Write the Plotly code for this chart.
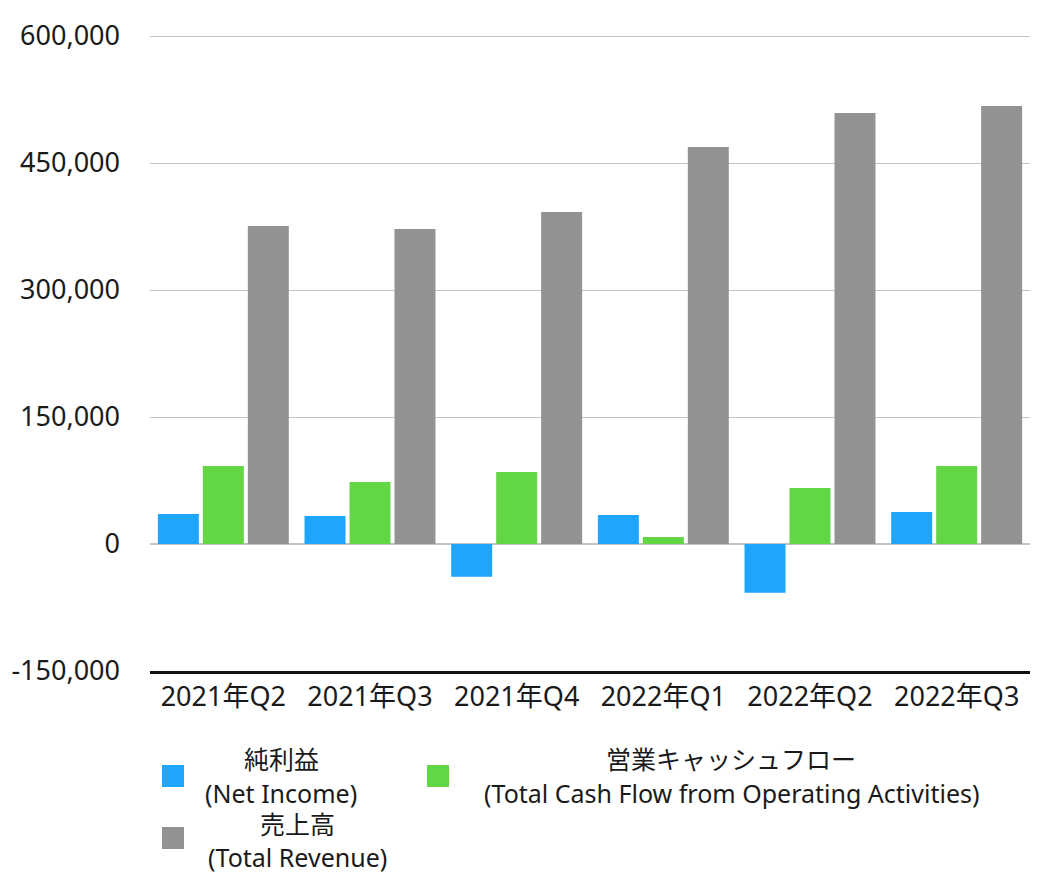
import plotly.graph_objects as go

categories = ["2021年Q2", "2021年Q3", "2021年Q4", "2022年Q1", "2022年Q2", "2022年Q3"]
net_income = [35400, 33000, -38600, 34300, -57500, 37800]
operating_cf = [92100, 73200, 85000, 8300, 66100, 92100]
total_revenue = [375600, 372000, 392100, 468900, 509000, 517300]

series_names = [
    ["純利益", "(Net Income)"],
    ["営業キャッシュフロー", "(Total Cash Flow from Operating Activities)"],
    ["売上高", "(Total Revenue)"],
]
tick_values = [-150000, 0, 150000, 300000, 450000, 600000]
tick_labels = ["-150,000", "0", "150,000", "300,000", "450,000", "600,000"]

colors = ["#1ea5fc", "#63d645", "#929292"]
FONT = "Noto Sans, Noto Sans CJK JP, sans-serif"
TXT = "#1a1a1a"

# the page body has an 8px margin
OFF = 8
HEAD = 3  # px of headroom above 600,000 so its gridline is drawn
W, H = 1058 - OFF, 886 - OFF
L, R, T, B = 150 - OFF, 28, 36 - HEAD - OFF, 215

fig = go.Figure()
for vals, names, col in zip([net_income, operating_cf, total_revenue], series_names, colors):
    fig.add_trace(go.Bar(x=categories, y=vals, name=" ".join(names),
                         marker=dict(color=col, line=dict(width=0)),
                         showlegend=False))

# custom legend (positions in page pixels, converted to paper coords)
def px(xp):
    return (xp - OFF - L) / (W - L - R)

def py(yp):
    return (H - B - (yp - OFF)) / (H - T - B)

legend_items = [
    # square left, square top, text center x, line1 y, line2 y
    (162, 765, 281, 759, 793),
    (427, 765, 731, 759, 793),
    (162, 827, 297, 824, 857),
]
shapes = []
annotations = []
for (sx, sy, tx, y1, y2), names, col in zip(legend_items, series_names, colors):
    shapes.append(dict(type="rect", xref="paper", yref="paper",
                       x0=px(sx), x1=px(sx + 22), y0=py(sy), y1=py(sy + 22),
                       fillcolor=col, line=dict(width=0)))
    for text, yy in zip(names, [y1, y2]):
        annotations.append(dict(xref="paper", yref="paper", x=px(tx), y=py(yy),
                                text=text, showarrow=False, xanchor="center",
                                yanchor="middle", borderpad=0,
                                font=dict(family=FONT, size=25, color=TXT)))

fig.update_layout(
    width=W, height=H,
    margin=dict(l=L, r=R, t=T, b=B, pad=0, autoexpand=False),
    paper_bgcolor="white", plot_bgcolor="white",
    barmode="group", bargap=0.08, bargroupgap=0.089,
    font=dict(family=FONT, size=27, color=TXT),
    shapes=shapes, annotations=annotations,
    showlegend=False,
)
y_top = 600000 + 750000 / (671 - 36) * HEAD
fig.update_xaxes(showgrid=False, showline=True, linecolor="#111111", linewidth=2.5,
                 ticks="", tickfont=dict(family=FONT, size=27, color=TXT),
                 automargin=False, fixedrange=True)
fig.update_yaxes(range=[-150000, y_top], tickvals=tick_values, ticktext=tick_labels,
                 showgrid=True, gridcolor="#c2c2c2", gridwidth=1,
                 zeroline=True, zerolinecolor="#c2c2c2", zerolinewidth=1.5,
                 showline=False, ticks="", ticklabelstandoff=29, automargin=False,
                 tickfont=dict(family=FONT, size=27, color=TXT), fixedrange=True)

fig.write_html("out.html")
